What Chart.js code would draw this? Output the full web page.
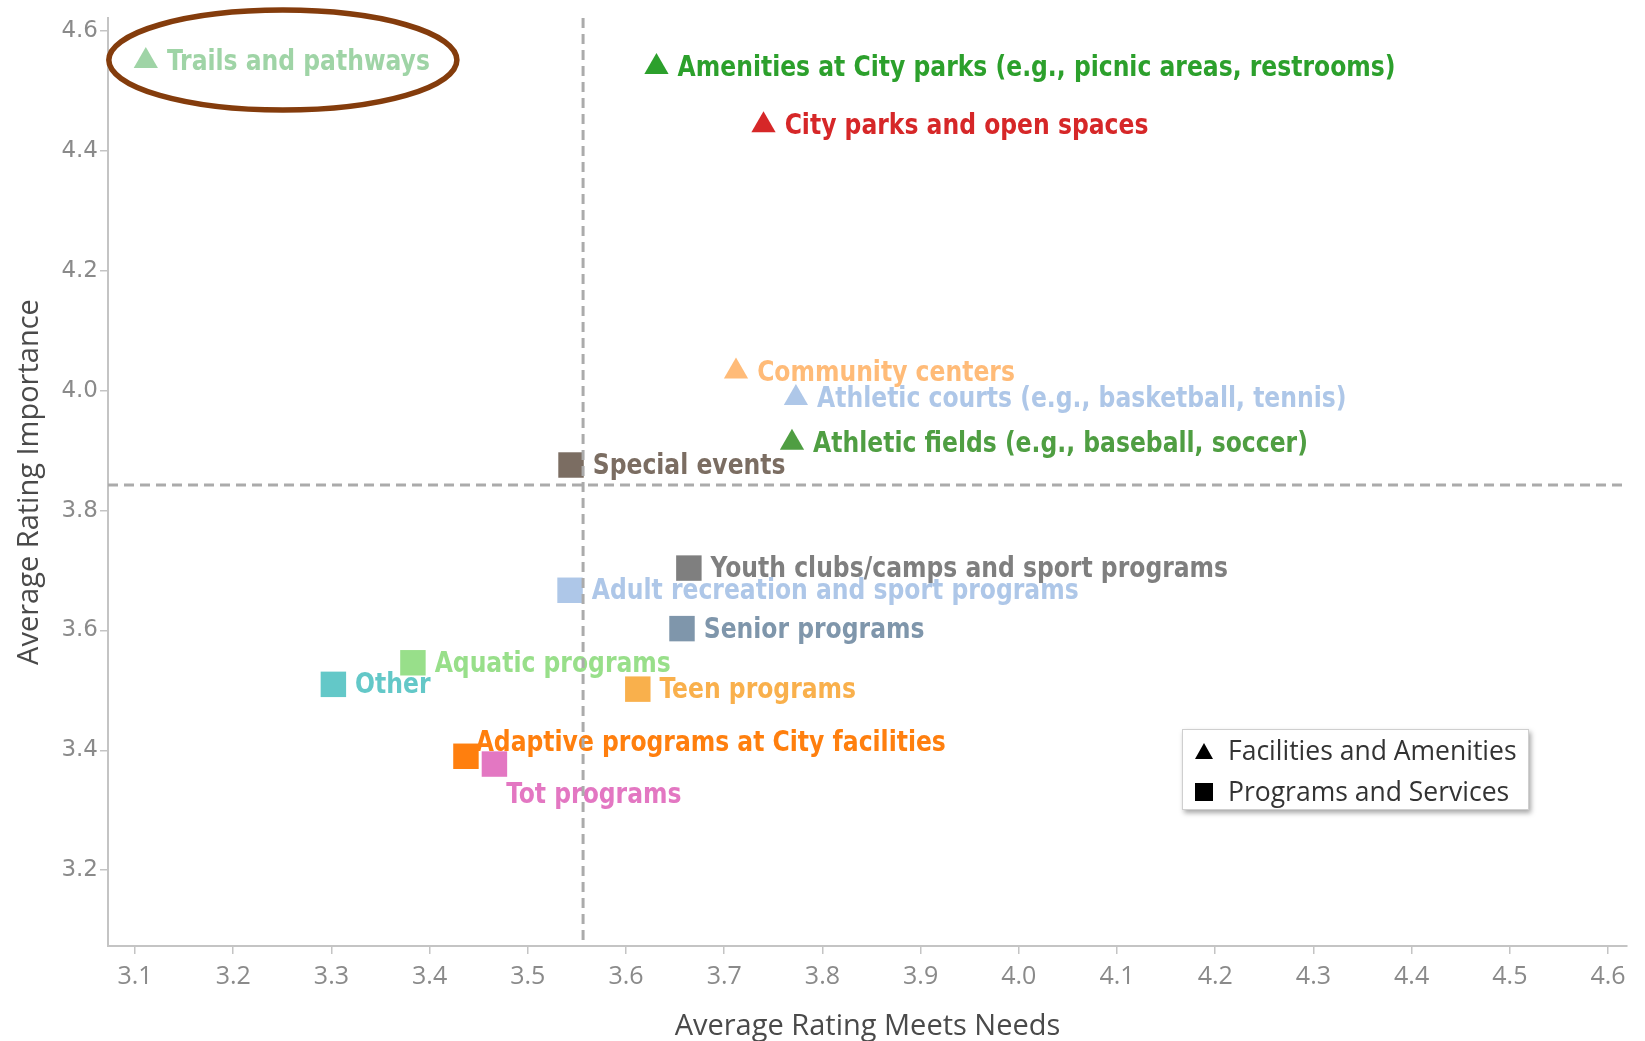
<!DOCTYPE html>
<html>
<head>
<meta charset="utf-8">
<title>Importance vs. Meets Needs</title>
<script src="https://cdn.jsdelivr.net/npm/chart.js@4.4.1/dist/chart.umd.min.js"></script>
<style>
  html, body { margin: 0; padding: 0; background: #fff; }
  #wrap { position: relative; width: 1645px; height: 1041px; }
  #legend {
    position: absolute; left: 1182px; top: 729px; width: 345px; height: 79px;
    background: #fff; border: 1px solid #cfcfcf;
    box-shadow: 2px 3px 5px rgba(0, 0, 0, 0.35);
    font: 26.5px "Open Sans", sans-serif; color: #333;
  }
  #legend .item { position: absolute; left: 11px; height: 32px; line-height: 32px; white-space: nowrap; }
  #legend svg { vertical-align: middle; margin-right: 14px; position: relative; top: -2px; }
</style>
</head>
<body>
<div id="wrap">
  <canvas id="chart" width="1645" height="1041"></canvas>
  <div id="legend">
    <div class="item" style="top:4px"><svg width="20" height="18"><polygon points="10,1 19,17 1,17" fill="#000"/></svg>Facilities and Amenities</div>
    <div class="item" style="top:45px"><svg width="20" height="18"><rect x="1" y="0" width="18" height="18" fill="#000"/></svg>Programs and Services</div>
  </div>
</div>
<script>
// survey items
const items = [
  "Trails and pathways",
  "Amenities at City parks (e.g., picnic areas, restrooms)",
  "City parks and open spaces",
  "Community centers",
  "Athletic courts (e.g., basketball, tennis)",
  "Athletic fields (e.g., baseball, soccer)",
  "Special events",
  "Youth clubs/camps and sport programs",
  "Adult recreation and sport programs",
  "Senior programs",
  "Aquatic programs",
  "Other",
  "Teen programs",
  "Adaptive programs at City facilities",
  "Tot programs"
];
const groups = ["F", "F", "F", "F", "F", "F", "P", "P", "P", "P", "P", "P", "P", "P", "P"];
const meetsNeeds = [3.111, 3.631, 3.740, 3.712, 3.773, 3.769, 3.544, 3.664, 3.543, 3.657, 3.383, 3.302, 3.612, 3.437, 3.466];
const importance = [4.550, 4.540, 4.443, 4.032, 3.988, 3.913, 3.876, 3.704, 3.667, 3.603, 3.546, 3.510, 3.502, 3.390, 3.377];

const xTicks = [3.1, 3.2, 3.3, 3.4, 3.5, 3.6, 3.7, 3.8, 3.9, 4.0, 4.1, 4.2, 4.3, 4.4, 4.5, 4.6];
const yTicks = [3.2, 3.4, 3.6, 3.8, 4.0, 4.2, 4.4, 4.6];

const colors = [
  "#9fd4a6", "#2ca02c", "#d62728", "#ffbb78", "#aec7e8", "#4f9e42", "#7b6d62",
  "#7f7f7f", "#aec7e8", "#7f96ab", "#98df8a", "#63c8c8", "#f9b04c", "#ff7f0e", "#e377c2"
];

const labelFont = 'bold 29px "Liberation Sans Narrow", "DejaVu Sans Condensed", "Roboto", sans-serif';
const labelSquash = 0.9;

// a couple of labels sit off to the side to stay readable
const labelNudge = {
  "Adaptive programs at City facilities": { dx: -12, dy: -14 },
  "Tot programs": { dx: -10, dy: 30 }
};

const mean = arr => arr.reduce((a, b) => a + b, 0) / arr.length;
const avgX = mean(meetsNeeds);
const avgY = mean(importance);

function groupData(g) {
  const idx = items.map((_, i) => i).filter(i => groups[i] === g);
  return {
    data: idx.map(i => ({ x: meetsNeeds[i], y: importance[i], name: items[i] })),
    colors: idx.map(i => colors[i])
  };
}
const fac = groupData("F");
const prog = groupData("P");

const TRI_R = 14, SQ_R = 18;

const annotate = {
  id: "annotate",
  afterDatasetsDraw(chart) {
    const { ctx, chartArea, scales: { x, y } } = chart;
    ctx.save();
    ctx.font = labelFont;
    ctx.textBaseline = "middle";
    ctx.textAlign = "left";
    let trails = null;
    chart.data.datasets.forEach((ds, di) => {
      const meta = chart.getDatasetMeta(di);
      const half = ds.pointStyle === "triangle" ? TRI_R * 0.866 : SQ_R * Math.SQRT1_2;
      meta.data.forEach((el, i) => {
        const name = ds.data[i].name;
        const n = labelNudge[name] || { dx: 0, dy: 0 };
        const lx = el.x + half + 9 + n.dx;
        const ly = el.y + 1.5 + n.dy;
        ctx.fillStyle = ds.backgroundColor[i];
        ctx.save();
        ctx.translate(lx, ly);
        ctx.scale(labelSquash, 1);
        ctx.fillText(name, 0, 0);
        ctx.restore();
        if (name === "Trails and pathways") {
          trails = { x: el.x, y: el.y, right: lx + ctx.measureText(name).width * labelSquash };
        }
      });
    });

    // reference lines at the averages
    ctx.strokeStyle = "#ababab";
    ctx.lineWidth = 3;
    ctx.setLineDash([10, 6]);
    const vx = x.getPixelForValue(avgX);
    const hy = y.getPixelForValue(avgY);
    ctx.beginPath();
    ctx.moveTo(vx, chartArea.top);
    ctx.lineTo(vx, chartArea.bottom);
    ctx.moveTo(chartArea.left, hy);
    ctx.lineTo(chartArea.right, hy);
    ctx.stroke();
    ctx.setLineDash([]);

    // highlight ring round the trails item
    if (trails) {
      const left = trails.x - 37;
      const right = trails.right + 27;
      ctx.strokeStyle = "#843c0c";
      ctx.lineWidth = 5.5;
      ctx.beginPath();
      ctx.ellipse((left + right) / 2, trails.y - 1, (right - left) / 2, 50, 0, 0, Math.PI * 2);
      ctx.stroke();
    }
    ctx.restore();
  }
};

new Chart(document.getElementById("chart"), {
  type: "scatter",
  data: {
    datasets: [
      {
        label: "Facilities and Amenities",
        data: fac.data,
        pointStyle: "triangle",
        pointRadius: TRI_R,
        backgroundColor: fac.colors,
        borderWidth: 0
      },
      {
        label: "Programs and Services",
        data: prog.data,
        pointStyle: "rect",
        pointRadius: SQ_R,
        backgroundColor: prog.colors,
        borderWidth: 0
      }
    ]
  },
  options: {
    responsive: false,
    animation: false,
    layout: { padding: { top: 13, right: 16, left: 0, bottom: 0 } },
    plugins: { legend: { display: false }, tooltip: { enabled: false } },
    scales: {
      x: {
        type: "linear",
        min: 3.0725,
        max: 4.6193,
        afterFit: s => { s.height = 95; },
        afterBuildTicks: s => { s.ticks = xTicks.map(v => ({ value: v })); },
        grid: { drawOnChartArea: false, drawTicks: true, tickLength: 8, color: "#c4c4c4", lineWidth: 1.5 },
        border: { display: true, color: "#c4c4c4", width: 2 },
        ticks: {
          color: "#8a8a8a",
          padding: 8,
          maxRotation: 0,
          font: { family: '"Open Sans", sans-serif', size: 25 },
          callback: v => v.toFixed(1)
        },
        title: {
          display: true,
          text: "Average Rating Meets Needs",
          color: "#4a4a4a",
          padding: { top: 0, bottom: 0 },
          font: { family: '"Open Sans", sans-serif', size: 29, lineHeight: 1.0 }
        }
      },
      y: {
        type: "linear",
        min: 3.0734,
        max: 4.6219,
        afterFit: s => { s.width = 108; },
        afterBuildTicks: s => { s.ticks = yTicks.map(v => ({ value: v })); },
        grid: { drawOnChartArea: false, drawTicks: true, tickLength: 8, color: "#c4c4c4", lineWidth: 1.5 },
        border: { display: true, color: "#c4c4c4", width: 2 },
        ticks: {
          color: "#8a8a8a",
          padding: 2,
          font: { family: '"DejaVu Sans", sans-serif', size: 23 },
          callback: v => v.toFixed(1)
        },
        title: {
          display: true,
          text: "Average Rating Importance",
          color: "#4a4a4a",
          padding: { top: 12, bottom: 0 },
          font: { family: '"Open Sans", sans-serif', size: 29, lineHeight: 1.2 }
        }
      }
    }
  },
  plugins: [annotate]
});
</script>
</body>
</html>
